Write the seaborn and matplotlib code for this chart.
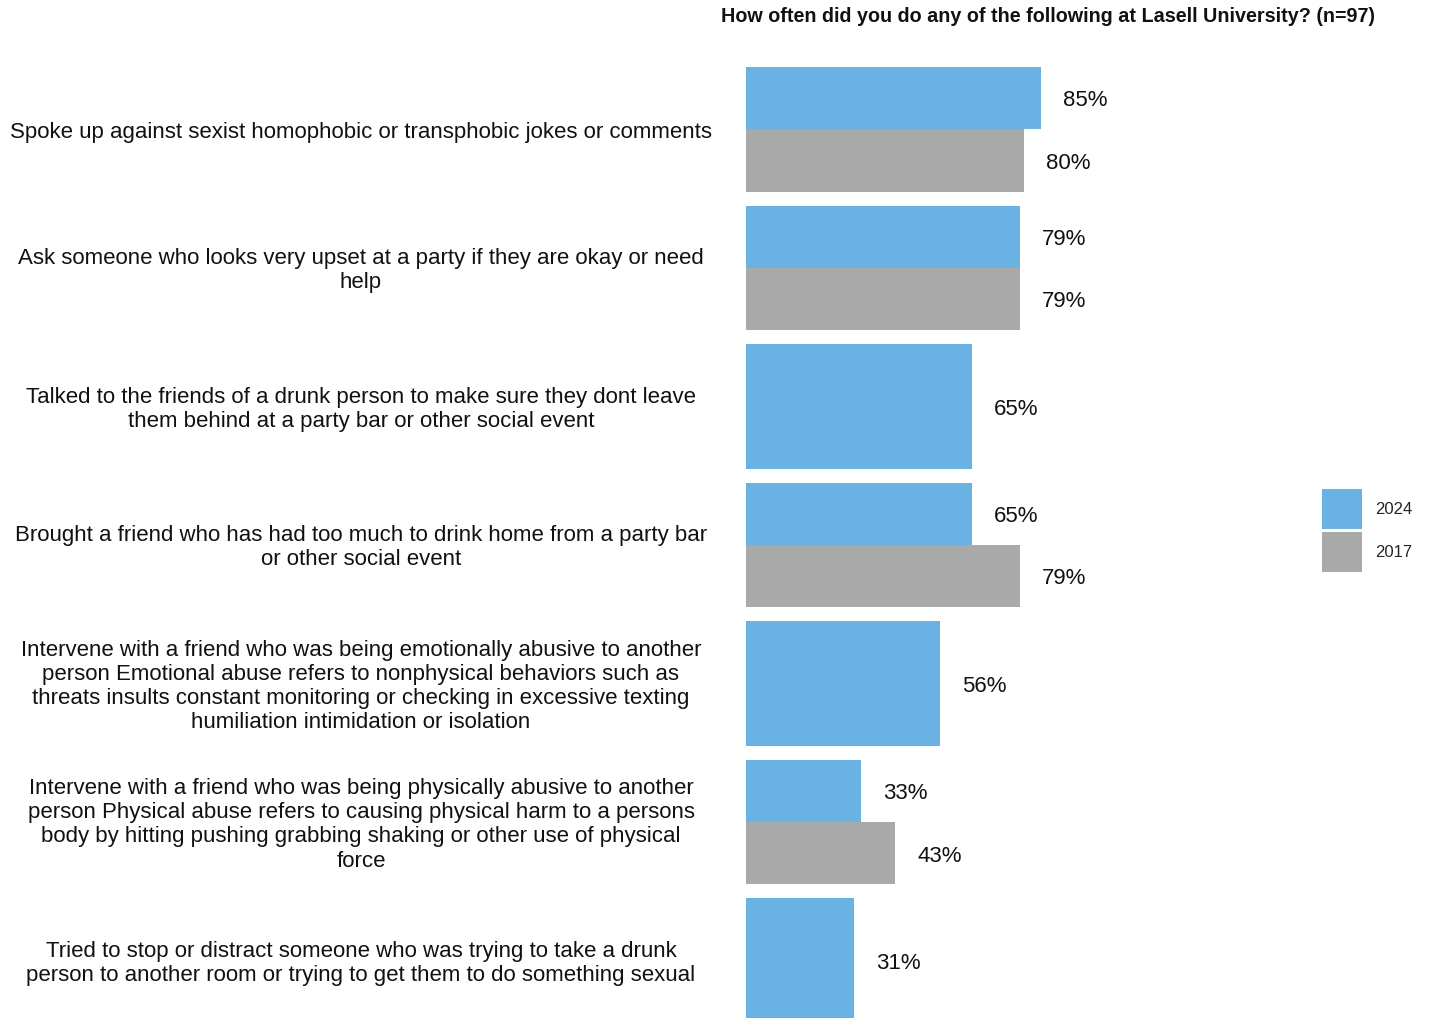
import matplotlib
matplotlib.use("Agg")
import matplotlib.pyplot as plt
import matplotlib.patches as mpatches
import matplotlib.transforms as mtransforms
import seaborn as sns
import pandas as pd

# ---- data -------------------------------------------------------------
categories = [
    "Spoke up against sexist homophobic or transphobic jokes or comments",
    "Ask someone who looks very upset at a party if they are okay or need\nhelp",
    "Talked to the friends of a drunk person to make sure they dont leave\nthem behind at a party bar or other social event",
    "Brought a friend who has had too much to drink home from a party bar\nor other social event",
    "Intervene with a friend who was being emotionally abusive to another\nperson Emotional abuse refers to nonphysical behaviors such as\nthreats insults constant monitoring or checking in excessive texting\nhumiliation intimidation or isolation",
    "Intervene with a friend who was being physically abusive to another\nperson Physical abuse refers to causing physical harm to a persons\nbody by hitting pushing grabbing shaking or other use of physical\nforce",
    "Tried to stop or distract someone who was trying to take a drunk\nperson to another room or trying to get them to do something sexual",
]
values_2024 = [85, 79, 65, 65, 56, 33, 31]
values_2017 = [80, 79, None, 79, None, 43, None]
years = ["2024", "2017"]
colors = {"2024": "#6AB1E4", "2017": "#A9A9A9"}
title = "How often did you do any of the following at Lasell University? (n=97)"

# ---- tidy frames ------------------------------------------------------
rows = []
for cat, v24, v17 in zip(categories, values_2024, values_2017):
    rows.append({"category": cat, "year": "2024", "value": v24})
    if v17 is not None:
        rows.append({"category": cat, "year": "2017", "value": v17})
df = pd.DataFrame(rows)
counts = df.groupby("category")["year"].transform("count")
paired = df[counts == 2]
single = df[counts == 1]

# ---- figure -----------------------------------------------------------
sns.set_theme(style="white")
plt.rcParams["font.family"] = ["Liberation Sans", "DejaVu Sans"]

W, H = 1429, 1018
fig = plt.figure(figsize=(W / 100, H / 100), dpi=100)
# the plotting area runs slightly past the lower edge of the canvas
ax = fig.add_axes([746 / W, 1 - 1023 / H, 347 / W, (1023 - 67) / H])

bar_width = 0.9
sns.barplot(data=paired, x="value", y="category", hue="year",
            order=categories, hue_order=years, palette=colors,
            orient="h", dodge=True, width=bar_width, gap=0,
            saturation=1, errorbar=None, legend=False, linewidth=0, ax=ax)
sns.barplot(data=single, x="value", y="category", hue="year",
            order=categories, hue_order=["2024"], palette=colors,
            orient="h", dodge=False, width=bar_width,
            saturation=1, errorbar=None, legend=False, linewidth=0, ax=ax)

ax.set_xlim(0, 100)
ax.set_ylim(len(categories) - 1 + bar_width / 2, -bar_width / 2)
ax.set_xlabel("")
ax.set_ylabel("")
ax.set_xticks([])
ax.set_yticks(range(len(categories)))
ax.set_yticklabels([])
ax.tick_params(left=False, bottom=False)
sns.despine(ax=ax, left=True, bottom=True)

# value labels next to each bar
for i, cat in enumerate(categories):
    sub = df[df["category"] == cat]
    n = len(sub)
    for j, (_, r) in enumerate(sub.iterrows()):
        if n == 2:
            y = i + (j - 0.5) * bar_width / 2
        else:
            y = i
        ax.annotate(f"{int(r['value'])}%", xy=(r["value"], y),
                    xytext=(16, -2), textcoords="offset points",
                    ha="left", va="center", fontsize=16, color="#111111")

# category labels, centred in the left margin
trans = mtransforms.blended_transform_factory(fig.transFigure, ax.transData)
trans = trans + mtransforms.ScaledTranslation(0, -2 / 72, fig.dpi_scale_trans)
for i, cat in enumerate(categories):
    ax.text(361 / W, i, cat, transform=trans, ha="center", va="center",
            multialignment="center", fontsize=16, color="#111111",
            linespacing=1.2)

# title
fig.text(1048 / W, 1 - 16 / H, title, ha="center", va="center",
         fontsize=14.2, fontweight="bold", color="#111111")

# legend
handles = [mpatches.Patch(color=colors[y], label=y, linewidth=0) for y in years]
fig.legend(handles=handles, loc="upper left",
           bbox_to_anchor=(1322 / W, 1 - 489 / H), frameon=False,
           fontsize=12, handlelength=2.4, handleheight=3.3,
           labelspacing=0.2, handletextpad=0.8, borderpad=0,
           borderaxespad=0)

fig.savefig("out.png", dpi=100)
